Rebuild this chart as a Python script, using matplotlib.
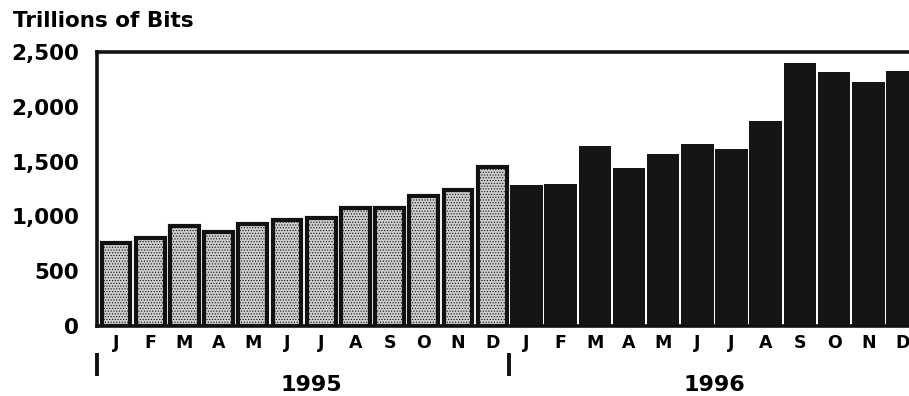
import matplotlib
matplotlib.use("Agg")
import matplotlib.pyplot as plt
import numpy as np

months = ["J", "F", "M", "A", "M", "J", "J", "A", "S", "O", "N", "D"]
years = ["1995", "1996"]
bits_1995 = [757, 802, 913, 862, 935, 965, 987, 1075, 1080, 1186, 1243, 1452]
bits_1996 = [1288, 1295, 1642, 1438, 1571, 1657, 1611, 1870, 2397, 2314, 2229, 2326]
y_ticks = [0, 500, 1000, 1500, 2000, 2500]
y_tick_labels = ["0", "500", "1,000", "1,500", "2,000", "2,500"]

plt.rcParams["font.family"] = ["DejaVu Sans"]
plt.rcParams["hatch.color"] = "#9a9a9a"
plt.rcParams["hatch.linewidth"] = 0.5

fig = plt.figure(figsize=(9.09, 3.96), dpi=100)
ax = fig.add_axes([97 / 909, 1 - 326 / 396, (909 - 97) / 909, (326 - 52) / 396])

x95 = np.arange(len(bits_1995))
x96 = np.arange(len(bits_1996)) + len(bits_1995)

ax.bar(x95, bits_1995, width=0.84, color="#cdcdcd", edgecolor="#111111",
       linewidth=3.0, hatch="......", zorder=2)
ax.bar(x96, bits_1996, width=0.95, color="#151515", edgecolor="#151515",
       linewidth=0, zorder=2)

ax.set_xlim(-0.556, 23.19)
ax.set_ylim(0, 2500)

ax.set_yticks(y_ticks)
ax.set_yticklabels(y_tick_labels, fontsize=15.5, fontweight="bold")
ax.tick_params(axis="y", length=0, pad=13)

all_x = np.concatenate([x95, x96])
ax.set_xticks(all_x)
ax.set_xticklabels(months + months, fontsize=12.5, fontweight="bold")
ax.tick_params(axis="x", length=0, pad=6)

for side in ["left", "top", "bottom"]:
    ax.spines[side].set_linewidth(2.6)
    ax.spines[side].set_color("#111111")
ax.spines["right"].set_visible(False)

# year dividers and labels below the month row
for xpos in [-0.556, 11.5]:
    ax.plot([xpos, xpos], [-250, -460], color="#111111", lw=2.8,
            clip_on=False, solid_capstyle="butt")
ax.text(5.7, -540, years[0], ha="center", va="center", fontsize=16,
        fontweight="bold", clip_on=False)
ax.text(17.5, -540, years[1], ha="center", va="center", fontsize=16,
        fontweight="bold", clip_on=False)

fig.text(13 / 909, 1 - 21 / 396, "Trillions of Bits", ha="left", va="center",
         fontsize=15.5, fontweight="bold")

fig.savefig("out.png", dpi=100)
